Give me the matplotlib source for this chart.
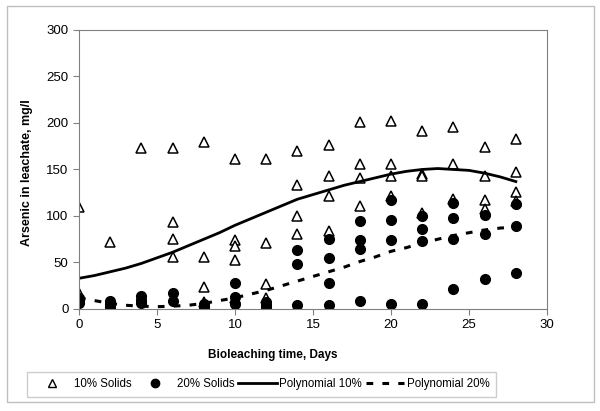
import numpy as np
import matplotlib
matplotlib.use("Agg")
import matplotlib.pyplot as plt
from matplotlib.patches import Rectangle
from matplotlib.lines import Line2D

plt.rcParams['font.family'] = ['Liberation Sans', 'DejaVu Sans']

# 10% solids (open triangles): day -> readings
days_10 = [0, 0, 0, 2, 4, 6, 6, 6, 6, 8, 8, 8, 8,
           10, 10, 10, 10, 10, 12, 12, 12, 12, 14, 14, 14, 14,
           16, 16, 16, 16, 18, 18, 18, 18, 20, 20, 20, 20,
           22, 22, 22, 22, 24, 24, 24, 26, 26, 26, 26, 28, 28, 28, 28]
arsenic_10 = [110, 17, 12, 72, 173, 173, 94, 75, 56, 179, 56, 24, 8,
              161, 74, 68, 53, 12, 161, 71, 27, 12, 170, 133, 100, 81,
              176, 143, 121, 84, 201, 156, 141, 111, 202, 156, 143, 122,
              191, 145, 143, 103, 196, 156, 118, 174, 143, 117, 108, 183, 147, 126, 116]

# 20% solids (filled circles)
days_20 = [0, 0, 0, 2, 2, 2, 4, 4, 4, 6, 6, 8, 8, 8,
           10, 10, 10, 12, 12, 12, 14, 14, 14, 16, 16, 16, 16,
           18, 18, 18, 18, 20, 20, 20, 20, 22, 22, 22, 22,
           24, 24, 24, 24, 26, 26, 26, 28, 28, 28]
arsenic_20 = [12, 9, 6, 9, 5, 2, 14, 10, 6, 17, 9, 5, 3, 2,
              28, 13, 5, 7, 4, 2, 63, 48, 4, 75, 55, 28, 4,
              95, 74, 64, 9, 117, 96, 74, 5, 100, 86, 73, 5,
              114, 98, 75, 22, 101, 81, 32, 113, 89, 39]

# trendlines, one value per day
trend_days = list(range(0, 29))
poly_10 = [33, 36, 40, 44, 49, 55, 61, 68, 75, 82, 90, 97, 104, 111, 118,
           123, 128, 133, 137, 141, 145, 148, 150, 151, 150, 149, 146, 142, 137]
poly_20 = [12, 9, 6, 4, 3, 2.5, 3, 4, 6, 9, 12, 16, 20, 25, 30,
           35, 40, 45, 51, 56, 62, 66, 71, 75, 79, 82, 85, 87, 88]

fig = plt.figure(figsize=(6, 4.11), dpi=100)
ax = fig.add_axes([0.1317, 0.2482, 0.78, 0.679])

# outer frame
fig.patches.append(Rectangle((7 / 600, 9 / 411), 587 / 600, 396 / 411,
                             transform=fig.transFigure, fill=False,
                             edgecolor='#c0c0c0', linewidth=1))

dash = (0, (2.2, 3))

ax.plot(days_10, arsenic_10, linestyle='none', marker='^', markersize=7,
        markerfacecolor='white', markeredgecolor='black', markeredgewidth=1.1)
ax.plot(days_20, arsenic_20, linestyle='none', marker='o', markersize=7,
        color='black')
ax.plot(trend_days, poly_10, color='black', linewidth=2)
ax.plot(trend_days, poly_20, color='black', linewidth=2.2, linestyle=dash)

ax.set_xlim(0, 30)
ax.set_ylim(0, 300)
ax.set_xticks(range(0, 31, 5))
ax.set_yticks(range(0, 301, 50))
for s in ax.spines.values():
    s.set_color('#808080')
ax.tick_params(colors='#808080', labelcolor='black', labelsize=9.5, length=4)
ax.set_xlabel('Bioleaching time, Days', fontsize=8.5, fontweight='bold')
ax.xaxis.set_label_coords(0.413, -0.145)
ax.set_ylabel('Arsenic in leachate, mg/l', fontsize=9, fontweight='bold')
ax.yaxis.set_label_coords(-0.099, 0.49)

handles = [
    Line2D([], [], linestyle='none', marker='^', markersize=6,
           markerfacecolor='white', markeredgecolor='black'),
    Line2D([], [], linestyle='none', marker='o', markersize=6, color='black'),
    Line2D([], [], color='black', linewidth=2),
    Line2D([], [], color='black', linewidth=2.2, linestyle=dash),
]
labels = ['10% Solids', '20% Solids', 'Polynomial 10%', 'Polynomial 20%']
leg = fig.legend(handles, labels, loc='center', bbox_to_anchor=(0.436, 0.0645),
                 ncol=4, fontsize=8.3, frameon=True, fancybox=False,
                 edgecolor='#c0c0c0', handlelength=3.3, columnspacing=0.35,
                 handletextpad=0.25, borderpad=0.55, borderaxespad=0)
leg.get_frame().set_linewidth(1)

fig.savefig('out.png', dpi=100)
